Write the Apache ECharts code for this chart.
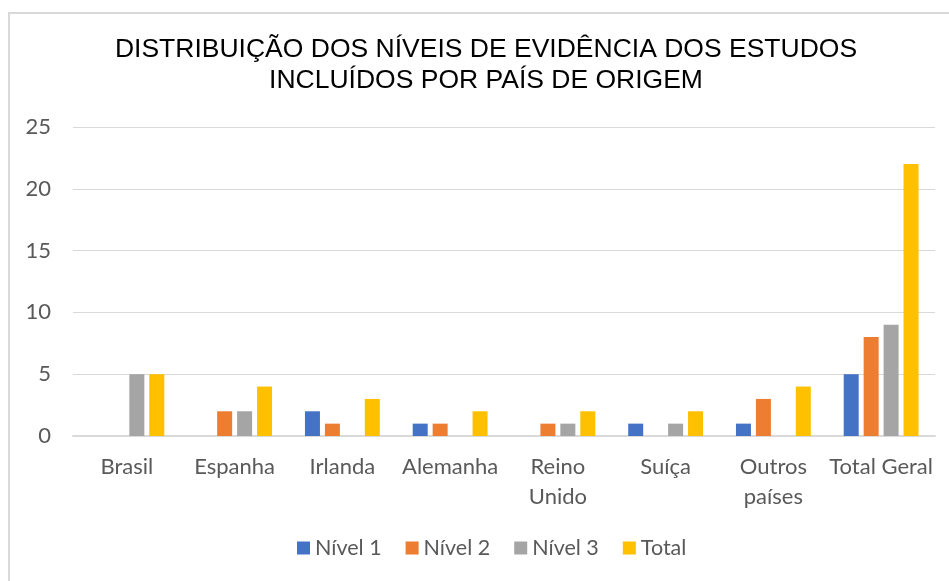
<!DOCTYPE html>
<html>
<head>
<meta charset="utf-8">
<script src="https://cdn.jsdelivr.net/npm/echarts@6/dist/echarts.min.js"></script>
<style>
  html, body { margin: 0; padding: 0; background: #fff; }
  #myChart { width: 949px; height: 581px; }
</style>
</head>
<body>
<div id="myChart"></div>
<script>
var categories = ['Brasil', 'Espanha', 'Irlanda', 'Alemanha', 'Reino\nUnido', 'Suíça', 'Outros\npaíses', 'Total Geral'];
var nivel1 = [0, 0, 2, 1, 0, 1, 1, 5];
var nivel2 = [0, 2, 1, 1, 1, 0, 3, 8];
var nivel3 = [5, 2, 0, 0, 1, 1, 0, 9];
var total = [5, 4, 3, 2, 2, 2, 4, 22];
var seriesNames = ['Nível 1', 'Nível 2', 'Nível 3', 'Total'];

var dom = document.getElementById("myChart");
var myChart = echarts.init(dom);
var labelFont = 'Lato, "Open Sans", sans-serif';

function bar(name, data) {
    return {
        name: name,
        type: 'bar',
        barWidth: 15,
        barGap: '33%',
        data: data
    };
}

var option = {
    color: ['#4472C4', '#ED7D31', '#A5A5A5', '#FFC000'],
    title: {
        text: 'DISTRIBUIÇÃO DOS NÍVEIS DE EVIDÊNCIA DOS ESTUDOS\nINCLUÍDOS POR PAÍS DE ORIGEM',
        left: 481,
        textAlign: 'center',
        top: 29,
        textStyle: {
            fontFamily: '"Liberation Sans", Arial, sans-serif',
            fontWeight: 'normal',
            fontSize: 26.5,
            lineHeight: 31,
            color: '#000'
        }
    },
    graphic: [{
        type: 'rect',
        shape: { x: 9, y: 13, width: 960, height: 600 },
        style: { fill: 'none', stroke: '#d9d9d9', lineWidth: 2 },
        silent: true,
        z: -1
    }],
    legend: {
        data: seriesNames,
        bottom: 17,
        left: 292,
        itemWidth: 13,
        itemHeight: 13,
        itemGap: 24,
        icon: 'rect',
        textStyle: {
            fontFamily: labelFont,
            fontSize: 21.5,
            color: '#595959'
        }
    },
    grid: {
        left: 73,
        right: 14,
        top: 127,
        bottom: 145
    },
    xAxis: {
        type: 'category',
        data: categories,
        axisLine: { lineStyle: { color: '#d9d9d9', width: 2 } },
        axisTick: { show: false },
        axisLabel: {
            fontFamily: labelFont,
            fontSize: 22,
            lineHeight: 30,
            color: '#595959',
            margin: 16,
            interval: 0
        }
    },
    yAxis: {
        type: 'value',
        min: 0,
        max: 25,
        interval: 5,
        axisLine: { show: false },
        axisTick: { show: false },
        axisLabel: {
            fontFamily: labelFont,
            fontSize: 22,
            color: '#595959',
            margin: 22
        },
        splitLine: { lineStyle: { color: '#d9d9d9', width: 1 } }
    },
    series: [
        bar(seriesNames[0], nivel1),
        bar(seriesNames[1], nivel2),
        bar(seriesNames[2], nivel3),
        bar(seriesNames[3], total)
    ]
};
myChart.setOption(option, true);
window.addEventListener("resize", function () {
    myChart.resize();
});
</script>
</body>
</html>
